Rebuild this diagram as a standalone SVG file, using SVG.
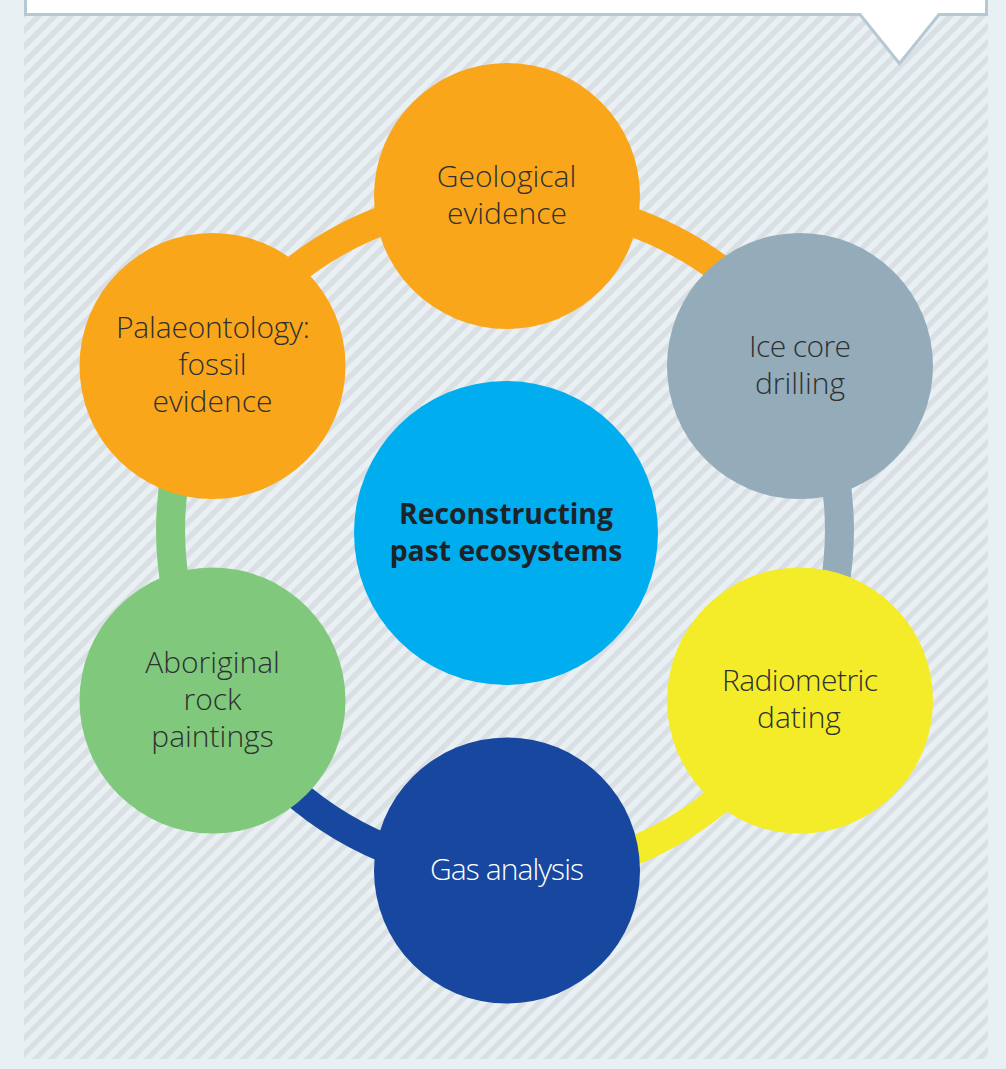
<svg xmlns="http://www.w3.org/2000/svg" width="1006" height="1069" viewBox="0 0 1006 1069">
<style>
.t{font-family:"Open Sans","Noto Sans",sans-serif;font-weight:300;font-size:30px;text-anchor:middle;fill:#2e3133}
.b{font-family:"Open Sans","Noto Sans",sans-serif;font-weight:700;font-size:28.300px;text-anchor:middle;fill:#1d2327}
.arc{fill:none;stroke-width:29}
</style>
<defs>
<pattern id="h" patternUnits="userSpaceOnUse" width="11.31" height="11.31" patternTransform="rotate(45) translate(2 0)">
<rect width="11.31" height="11.31" fill="#e8f0f4"/>
<rect width="5.4" height="11.31" fill="#d9dfe3"/>
</pattern>
</defs>
<rect width="1006" height="1069" fill="#e8f0f4"/>
<rect x="24" y="0" width="964" height="1059" fill="url(#h)"/>
<path d="M25.500-2V14.500H860L899.500 63.500 939 14.500H986.500V-2Z" fill="#fff" stroke="#b5c9d5" stroke-width="3"/>
<g id="connectors">
<path class="arc" stroke="#faa61a" d="M285 278A335 335 0 0 1 395 216"/>
<path class="arc" stroke="#faa61a" d="M620 218A335 335 0 0 1 730 277"/>
<path class="arc" stroke="#94abb9" d="M834 470A335 335 0 0 1 834 590"/>
<path class="arc" stroke="#f4ec29" d="M730 790A335 335 0 0 1 620 856"/>
<path class="arc" stroke="#17479e" d="M400 854A335 335 0 0 1 290 788.500"/>
<path class="arc" stroke="#80c87b" d="M176 590A335 335 0 0 1 176 470"/>
</g>
<g id="n-center"><circle cx="506" cy="533" r="152" fill="#00aeef"/><text class="b" x="506" y="524">Reconstructing</text><text class="b" x="506" y="561">past ecosystems</text></g>
<g id="n-geo"><circle cx="507" cy="196" r="133" fill="#faa61a"/><text class="t" x="506.500" y="187">Geological</text><text class="t" x="507" y="224">evidence</text></g>
<g id="n-ice"><circle cx="800" cy="366" r="133" fill="#94abb9"/><text class="t" x="800" y="357" textLength="102">Ice core</text><text class="t" x="800" y="394">drilling</text></g>
<g id="n-radio"><circle cx="800" cy="700.500" r="133" fill="#f4ec29"/><text class="t" x="800" y="691" textLength="156">Radiometric</text><text class="t" x="799" y="728">dating</text></g>
<g id="n-gas"><circle cx="507" cy="870.500" r="133" fill="#17479e"/><text class="t" x="507" y="880" textLength="154" style="fill:#fff">Gas analysis</text></g>
<g id="n-rock"><circle cx="212.500" cy="700.500" r="133" fill="#80c87b"/><text class="t" x="212.500" y="673">Aboriginal</text><text class="t" x="212.500" y="710">rock</text><text class="t" x="212.500" y="747">paintings</text></g>
<g id="n-fossil"><circle cx="212.500" cy="366" r="133" fill="#faa61a"/><text class="t" x="213" y="338" textLength="194">Palaeontology:</text><text class="t" x="212.500" y="375">fossil</text><text class="t" x="212.500" y="412">evidence</text></g>
</svg>
